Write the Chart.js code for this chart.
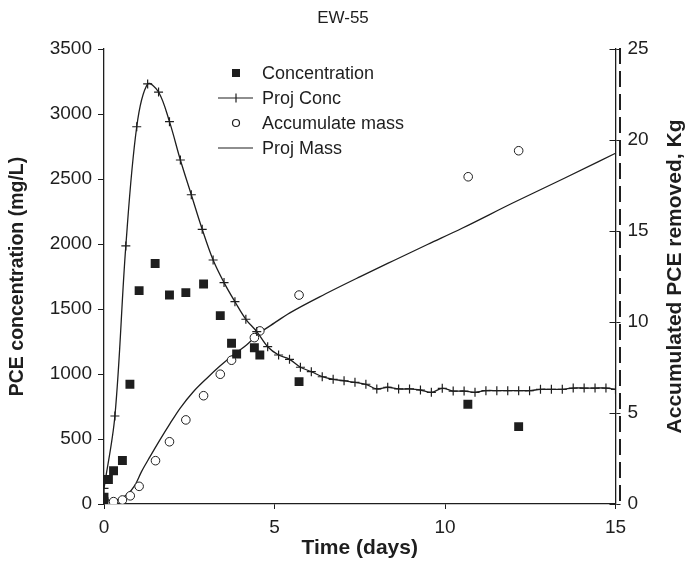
<!DOCTYPE html>
<html>
<head>
<meta charset="utf-8">
<title>EW-55</title>
<script src="https://cdn.jsdelivr.net/npm/chart.js@4.4.1/dist/chart.umd.min.js"></script>
<style>
  html, body { margin: 0; padding: 0; background: #fff; }
  #wrap { width: 686px; height: 565px; }
</style>
</head>
<body>
<div id="wrap"><canvas id="ew55" width="686" height="565"></canvas></div>
<script>
// measured concentration (mg/L)
const concDays = [0, 0, 0.13, 0.28, 0.54, 0.76, 1.03, 1.50, 1.92, 2.40, 2.92, 3.41, 3.74, 3.89, 4.41, 4.57, 5.72, 10.67, 12.16];
const concVals = [18, 52, 188, 256, 335, 921, 1641, 1850, 1608, 1626, 1692, 1449, 1236, 1154, 1202, 1146, 941, 767, 595];

// projected concentration (mg/L)
const projConcDays = [0, 0.32, 0.64, 0.96, 1.28, 1.60, 1.92, 2.24, 2.56, 2.88, 3.20, 3.52, 3.84, 4.16, 4.48, 4.80,
  5.12, 5.44, 5.76, 6.08, 6.40, 6.72, 7.04, 7.36, 7.68, 8.00, 8.32, 8.64, 8.96, 9.28, 9.60, 9.92,
  10.24, 10.56, 10.88, 11.20, 11.52, 11.84, 12.16, 12.48, 12.80, 13.12, 13.44, 13.76, 14.08, 14.40, 14.72, 15];
const projConcVals = [120, 677, 1985, 2902, 3231, 3169, 2941, 2646, 2379, 2113, 1877, 1703, 1556, 1421, 1326, 1210,
  1146, 1113, 1052, 1018, 979, 959, 948, 936, 921, 885, 898, 885, 885, 877, 859, 890,
  869, 869, 859, 872, 872, 872, 872, 872, 882, 882, 882, 892, 892, 892, 892, 882];

// accumulated mass removed (Kg)
const massDays = [0, 0.10, 0.28, 0.54, 0.77, 1.03, 1.51, 1.92, 2.40, 2.92, 3.41, 3.74, 4.41, 4.57, 5.72, 10.68, 12.16];
const massVals = [0.04, 0.0, 0.13, 0.22, 0.45, 0.97, 2.38, 3.42, 4.62, 5.95, 7.13, 7.90, 9.14, 9.51, 11.48, 17.98, 19.41];

// projected mass (Kg)
const projMassDays = [0, 0.37, 0.66, 0.91, 1.10, 1.35, 1.64, 1.94, 2.23, 2.62, 3.01, 3.40, 3.79, 4.18, 4.57, 5.00,
  5.45, 6.50, 7.50, 8.50, 9.50, 10.50, 12.00, 13.50, 15];
const projMassVals = [0, 0.22, 0.49, 1.04, 1.78, 2.60, 3.52, 4.43, 5.26, 6.17, 6.90, 7.58, 8.19, 8.74, 9.40, 9.95,
  10.50, 11.55, 12.48, 13.38, 14.27, 15.15, 16.55, 17.90, 19.27];

const xTicks = [0, 5, 10, 15];
const concTicks = [0, 500, 1000, 1500, 2000, 2500, 3000, 3500];
const massTicks = [0, 5, 10, 15, 20, 25];

const ink = '#1e1e1e';
const fam = '"Liberation Sans", Arial, sans-serif';

function pairs(xs, ys) {
  return xs.map((x, i) => ({ x: x, y: ys[i] }));
}

function plain(v) {
  return String(v);
}

// extra bits: dashed line at right, inward ticks on right axis, legend, right axis title
const extras = {
  id: 'extras',
  afterDraw(chart) {
    const ctx = chart.ctx;
    const area = chart.chartArea;
    const y2 = chart.scales.y2;

    ctx.save();
    ctx.strokeStyle = ink;
    ctx.lineWidth = 1;
    y2.ticks.forEach(t => {
      const py = Math.round(y2.getPixelForValue(t.value)) + 0.5;
      ctx.beginPath();
      ctx.moveTo(area.right - 6, py);
      ctx.lineTo(area.right, py);
      ctx.stroke();
    });

    ctx.lineWidth = 2;
    ctx.setLineDash([16, 7]);
    ctx.beginPath();
    ctx.moveTo(area.right + 4.5, area.top - 1);
    ctx.lineTo(area.right + 4.5, area.bottom + 3);
    ctx.stroke();
    ctx.setLineDash([]);

    // legend
    const lx = area.left + 132;
    const tx = area.left + 158;
    const rows = [area.top + 24, area.top + 49, area.top + 74, area.top + 99];
    ctx.font = '18px ' + fam;
    ctx.fillStyle = ink;
    ctx.textBaseline = 'middle';
    ctx.textAlign = 'left';
    chart.data.datasets.forEach((ds, i) => {
      const ry = rows[i];
      ctx.lineWidth = 1.2;
      if (ds.showLine) {
        ctx.beginPath();
        ctx.moveTo(lx - 18, ry);
        ctx.lineTo(lx + 17, ry);
        ctx.stroke();
      }
      if (ds.pointStyle === 'rect') {
        ctx.fillRect(lx - 4, ry - 4, 8, 8);
      } else if (ds.pointStyle === 'cross') {
        ctx.beginPath();
        ctx.moveTo(lx, ry - 4.5);
        ctx.lineTo(lx, ry + 4.5);
        ctx.stroke();
      } else if (ds.pointStyle === 'circle') {
        ctx.beginPath();
        ctx.arc(lx, ry, 3.5, 0, Math.PI * 2);
        ctx.stroke();
      }
      ctx.fillText(ds.label, tx, ry + 1);
    });

    // right axis title, reading upward
    ctx.translate(675, (area.top + area.bottom) / 2);
    ctx.rotate(-Math.PI / 2);
    ctx.textAlign = 'center';
    ctx.font = 'bold 21px ' + fam;
    ctx.fillText('Accumulated PCE removed, Kg', 0, 0);
    ctx.restore();
  }
};

const ctx = document.getElementById('ew55').getContext('2d');
new Chart(ctx, {
  type: 'scatter',
  data: {
    datasets: [
      {
        label: 'Concentration',
        data: pairs(concDays, concVals),
        yAxisID: 'y',
        pointStyle: 'rect',
        pointRadius: 6.3,
        backgroundColor: ink,
        borderColor: ink,
        borderWidth: 0,
        showLine: false
      },
      {
        label: 'Proj Conc',
        data: pairs(projConcDays, projConcVals),
        yAxisID: 'y',
        showLine: true,
        tension: 0.35,
        borderColor: ink,
        borderWidth: 1.3,
        pointStyle: 'cross',
        pointRadius: 4.5,
        pointBorderColor: ink,
        pointBorderWidth: 1.2
      },
      {
        label: 'Accumulate mass',
        data: pairs(massDays, massVals),
        yAxisID: 'y2',
        pointStyle: 'circle',
        pointRadius: 4.3,
        backgroundColor: '#fff',
        borderColor: ink,
        borderWidth: 1,
        showLine: false
      },
      {
        label: 'Proj Mass',
        data: pairs(projMassDays, projMassVals),
        yAxisID: 'y2',
        showLine: true,
        cubicInterpolationMode: 'monotone',
        borderColor: ink,
        borderWidth: 1.3,
        pointRadius: 0,
        pointStyle: 'line'
      }
    ]
  },
  options: {
    responsive: false,
    animation: false,
    layout: { padding: 0 },
    plugins: {
      legend: { display: false },
      tooltip: { enabled: false },
      title: {
        display: true,
        text: 'EW-55',
        color: ink,
        font: { family: fam, size: 17, weight: 'normal', lineHeight: 1.2 },
        padding: { top: 8, bottom: 20.6 }
      }
    },
    scales: {
      x: {
        type: 'linear',
        min: 0,
        max: 15,
        afterBuildTicks: s => { s.ticks = xTicks.map(v => ({ value: v })); },
        afterFit: s => { s.height = 61; },
        ticks: { color: ink, font: { family: fam, size: 19 }, padding: 7, callback: plain },
        grid: { drawOnChartArea: false, tickLength: 5, color: ink },
        border: { color: ink, width: 1.3 },
        title: {
          display: true,
          text: 'Time (days)',
          color: ink,
          font: { family: fam, size: 21, weight: 'bold', lineHeight: 1.2 },
          padding: { top: 0, bottom: 4 }
        }
      },
      y: {
        position: 'left',
        min: 0,
        max: 3500,
        afterBuildTicks: s => { s.ticks = concTicks.map(v => ({ value: v })); },
        afterFit: s => { s.width = 104; },
        ticks: { color: ink, font: { family: fam, size: 19 }, padding: 6, callback: plain },
        grid: { drawOnChartArea: false, tickLength: 6, color: ink },
        border: { color: ink, width: 1.3 },
        title: {
          display: true,
          text: 'PCE concentration (mg/L)',
          color: ink,
          font: { family: fam, size: 19.5, weight: 'bold', lineHeight: 1.2 },
          padding: { top: 6, bottom: 0 }
        }
      },
      y2: {
        position: 'right',
        min: 0,
        max: 25,
        afterBuildTicks: s => { s.ticks = massTicks.map(v => ({ value: v })); },
        afterFit: s => { s.width = 70.5; },
        ticks: { color: ink, font: { family: fam, size: 19 }, padding: 7, callback: plain },
        grid: { drawOnChartArea: false, tickLength: 5, color: ink },
        border: { color: ink, width: 1.3 }
      }
    }
  },
  plugins: [extras]
});
</script>
</body>
</html>
